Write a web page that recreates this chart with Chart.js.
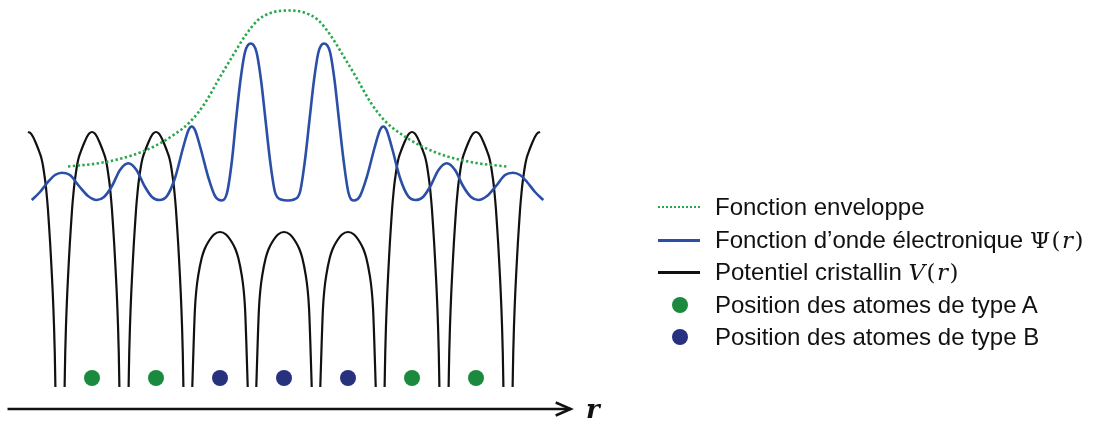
<!DOCTYPE html>
<html>
<head>
<meta charset="utf-8">
<script src="https://cdn.jsdelivr.net/npm/chart.js@4.4.0/dist/chart.umd.min.js"></script>
<style>
  html, body { margin: 0; padding: 0; background: #fff; }
  #wrap { position: relative; width: 1107px; height: 426px; overflow: hidden; }
  #chart { position: absolute; left: 0; top: 0; }
  .legend { font-family: "Liberation Sans", Arial, sans-serif; font-size: 24px; color: #111; }
  .row { position: absolute; left: 658px; height: 32px; line-height: 32px; white-space: nowrap; }
  .mk { position: absolute; left: 0; top: 16px; }
  .txt { position: absolute; left: 57px; top: 0; }
  .mk-dot-line { width: 42px; height: 0; border-top: 2.5px dotted #2aa84f; margin-top: -1px; }
  .mk-line { width: 42px; height: 2.5px; margin-top: -1px; }
  .mk-circle { left: 14px; width: 16px; height: 16px; border-radius: 50%; margin-top: -8px; }
  .m { font-family: "DejaVu Serif", "Liberation Serif", serif; font-size: 23px; letter-spacing: 1.5px; }
  .m i { font-style: italic; }
  #rlabel { position: absolute; left: 586px; top: 396px; font: italic bold 26px "DejaVu Serif", "Liberation Serif", serif; line-height: 26px; color: #111; }
</style>
</head>
<body>
<div id="wrap">
  <canvas id="chart" width="1107" height="426"></canvas>
  <div class="legend">
    <div class="row" style="top:191px"><span class="mk mk-dot-line"></span><span class="txt">Fonction enveloppe</span></div>
    <div class="row" style="top:224px"><span class="mk mk-line" style="background:#2b4ea6"></span><span class="txt">Fonction d’onde électronique <span class="m">Ψ(<i>r</i>)</span></span></div>
    <div class="row" style="top:256px"><span class="mk mk-line" style="background:#111"></span><span class="txt">Potentiel cristallin <span class="m"><i>V</i>(<i>r</i>)</span></span></div>
    <div class="row" style="top:289px"><span class="mk mk-circle" style="background:#1b8a3f"></span><span class="txt">Position des atomes de type A</span></div>
    <div class="row" style="top:321px"><span class="mk mk-circle" style="background:#27317f"></span><span class="txt">Position des atomes de type B</span></div>
  </div>
  <div id="rlabel">r</div>
</div>
<script>
// ─── Atom positions (lattice units) ───
var atomA = [1, 2, 6, 7];
var atomB = [3, 4, 5];
var atomLevel = 0.9;

// ─── Potential wells: one arch per site, cut between sites ───
var wellCenters = [0, 1, 2, 3, 4, 5, 6, 7, 8];
var wellKind = ['A', 'A', 'A', 'B', 'B', 'B', 'A', 'A', 'A'];
// arch profiles: distance from site vs value
var tallDr = [0, 0.04, 0.08, 0.116, 0.16, 0.209, 0.235, 0.256, 0.275, 0.288, 0.31, 0.328, 0.345,
  0.359, 0.373, 0.386, 0.397, 0.406, 0.418, 0.428];
var tallV  = [25.5, 25.38, 25.0, 24.5, 23.8, 22.9, 22.1, 21.2, 20.3, 19.5, 17.9, 16.2, 14.5,
  12.9, 11.2, 9.5, 7.8, 6.2, 3.5, 0];
var lowDr  = [0, 0.094, 0.183, 0.24, 0.286, 0.339, 0.368, 0.391, 0.411, 0.433];
var lowV   = [15.5, 15.25, 14.5, 13.8, 12.9, 11.2, 9.8, 7.9, 4.5, 0];

// ─── Wave function Ψ(r) ───
var psiR = [0.058, 0.1875, 0.3125, 0.422, 0.531, 0.656, 0.797, 0.9375, 1.073,
  1.1875, 1.3125, 1.4375, 1.567, 1.695, 1.82, 1.9375, 2.052,
  2.172, 2.297, 2.422, 2.508, 2.558, 2.609, 2.695, 2.82, 2.922, 3.027,
  3.109, 3.1875, 3.25, 3.32, 3.391, 3.48, 3.57, 3.641, 3.711, 3.781, 3.859, 3.953, 4.0625,
  4.156, 4.25, 4.328, 4.398, 4.469, 4.539, 4.625, 4.719, 4.789, 4.859, 4.93, 5.008, 5.094,
  5.1875, 5.289, 5.414, 5.5, 5.552, 5.602, 5.6875, 5.8125, 5.9375, 6.058,
  6.172, 6.289, 6.414, 6.542, 6.672, 6.797, 6.922, 7.036,
  7.172, 7.3125, 7.453, 7.578, 7.6875, 7.797, 7.922, 8.052];
var psiV = [18.7, 19.5, 20.5, 21.2, 21.43, 21.2, 20.1, 19.1, 18.7,
  19.0, 20.1, 21.7, 22.37, 21.7, 20.1, 19.0, 18.7,
  19.1, 20.9, 23.9, 25.7, 26.05, 25.7, 23.9, 20.9, 19.1, 18.65,
  19.4, 22.7, 26.7, 30.7, 33.5, 34.35, 33.5, 30.7, 26.7, 22.7, 19.5, 18.75, 18.65,
  18.75, 19.5, 22.7, 26.7, 30.7, 33.5, 34.35, 33.5, 30.7, 26.7, 22.7, 19.4, 18.65,
  19.1, 20.9, 23.9, 25.7, 26.05, 25.7, 23.9, 20.9, 19.1, 18.7,
  19.0, 20.1, 21.7, 22.37, 21.7, 20.1, 19.0, 18.7,
  19.1, 20.1, 21.2, 21.43, 21.2, 20.5, 19.5, 18.7];

// ─── Envelope ───
var envR = [0.625, 1.125, 1.594, 1.984, 2.297, 2.531, 2.766, 3.0, 3.1875, 3.391, 3.594, 3.8125, 4.0625,
  4.3125, 4.531, 4.734, 4.9375, 5.125, 5.359, 5.594, 5.828, 6.141, 6.531, 7.0, 7.484];
var envV = [22.05, 22.4, 23.1, 24.1, 25.3, 26.5, 28.4, 31.0, 33.0, 35.1, 36.7, 37.45, 37.65,
  37.45, 36.7, 35.1, 33.0, 31.0, 28.4, 26.5, 25.3, 24.1, 23.1, 22.4, 22.05];

// ─── r axis ───
var axisR = [-0.32, 8.48];
var axisV = [-2.2, -2.2];

function zip(xs, ys) {
  return xs.map(function(x, i) { return { x: x, y: ys[i] }; });
}

function buildPotential() {
  var pts = [];
  wellCenters.forEach(function(c, k) {
    var dr = wellKind[k] === 'B' ? lowDr : tallDr;
    var v = wellKind[k] === 'B' ? lowV : tallV;
    var first = k === 0, last = k === wellCenters.length - 1;
    var i;
    if (!first) {
      for (i = dr.length - 1; i > 0; i--) pts.push({ x: c - dr[i], y: v[i] });
    }
    pts.push({ x: c, y: v[0] });
    if (!last) {
      for (i = 1; i < dr.length; i++) pts.push({ x: c + dr[i], y: v[i] });
      pts.push({ x: c + 0.5, y: null });
    }
  });
  return pts;
}

// chevron at the end of the r axis
var arrowHead = {
  id: 'arrowHead',
  afterDatasetsDraw: function(chart) {
    var meta = chart.getDatasetMeta(0);
    var p = meta.data[meta.data.length - 1];
    var ctx = chart.ctx;
    ctx.save();
    ctx.strokeStyle = '#111';
    ctx.lineWidth = 2.5;
    ctx.beginPath();
    ctx.moveTo(p.x - 15, p.y - 6.5);
    ctx.lineTo(p.x, p.y);
    ctx.lineTo(p.x - 15, p.y + 6.5);
    ctx.stroke();
    ctx.restore();
  }
};

new Chart(document.getElementById('chart'), {
  type: 'line',
  data: {
    datasets: [
      { label: 'axe r', data: zip(axisR, axisV), borderColor: '#111', borderWidth: 2.5,
        pointRadius: 0, tension: 0, order: 5 },
      { label: 'Potentiel cristallin V(r)', data: buildPotential(), borderColor: '#111', borderWidth: 2.2,
        pointRadius: 0, cubicInterpolationMode: 'monotone', spanGaps: false, order: 4 },
      { label: 'Fonction d’onde électronique Ψ(r)', data: zip(psiR, psiV), borderColor: '#2b4ea6', borderWidth: 2.6,
        pointRadius: 0, cubicInterpolationMode: 'monotone', order: 3 },
      { label: 'Fonction enveloppe', data: zip(envR, envV), borderColor: '#2aa84f', borderWidth: 2.6,
        borderDash: [2.4, 2.4], pointRadius: 0, cubicInterpolationMode: 'monotone', order: 2 },
      { label: 'Position des atomes de type A', data: atomA.map(function(r) { return { x: r, y: atomLevel }; }),
        showLine: false, pointRadius: 8, pointBackgroundColor: '#1b8a3f', pointBorderWidth: 0, order: 1 },
      { label: 'Position des atomes de type B', data: atomB.map(function(r) { return { x: r, y: atomLevel }; }),
        showLine: false, pointRadius: 8, pointBackgroundColor: '#27317f', pointBorderWidth: 0, order: 1 }
    ]
  },
  options: {
    responsive: false,
    animation: false,
    events: [],
    layout: { padding: 0, autoPadding: false },
    plugins: { legend: { display: false }, tooltip: { enabled: false } },
    scales: {
      x: { type: 'linear', min: -0.4375, max: 16.859, display: false },
      y: { type: 'linear', min: -3.9, max: 38.7, display: false }
    }
  },
  plugins: [arrowHead]
});
</script>
</body>
</html>
